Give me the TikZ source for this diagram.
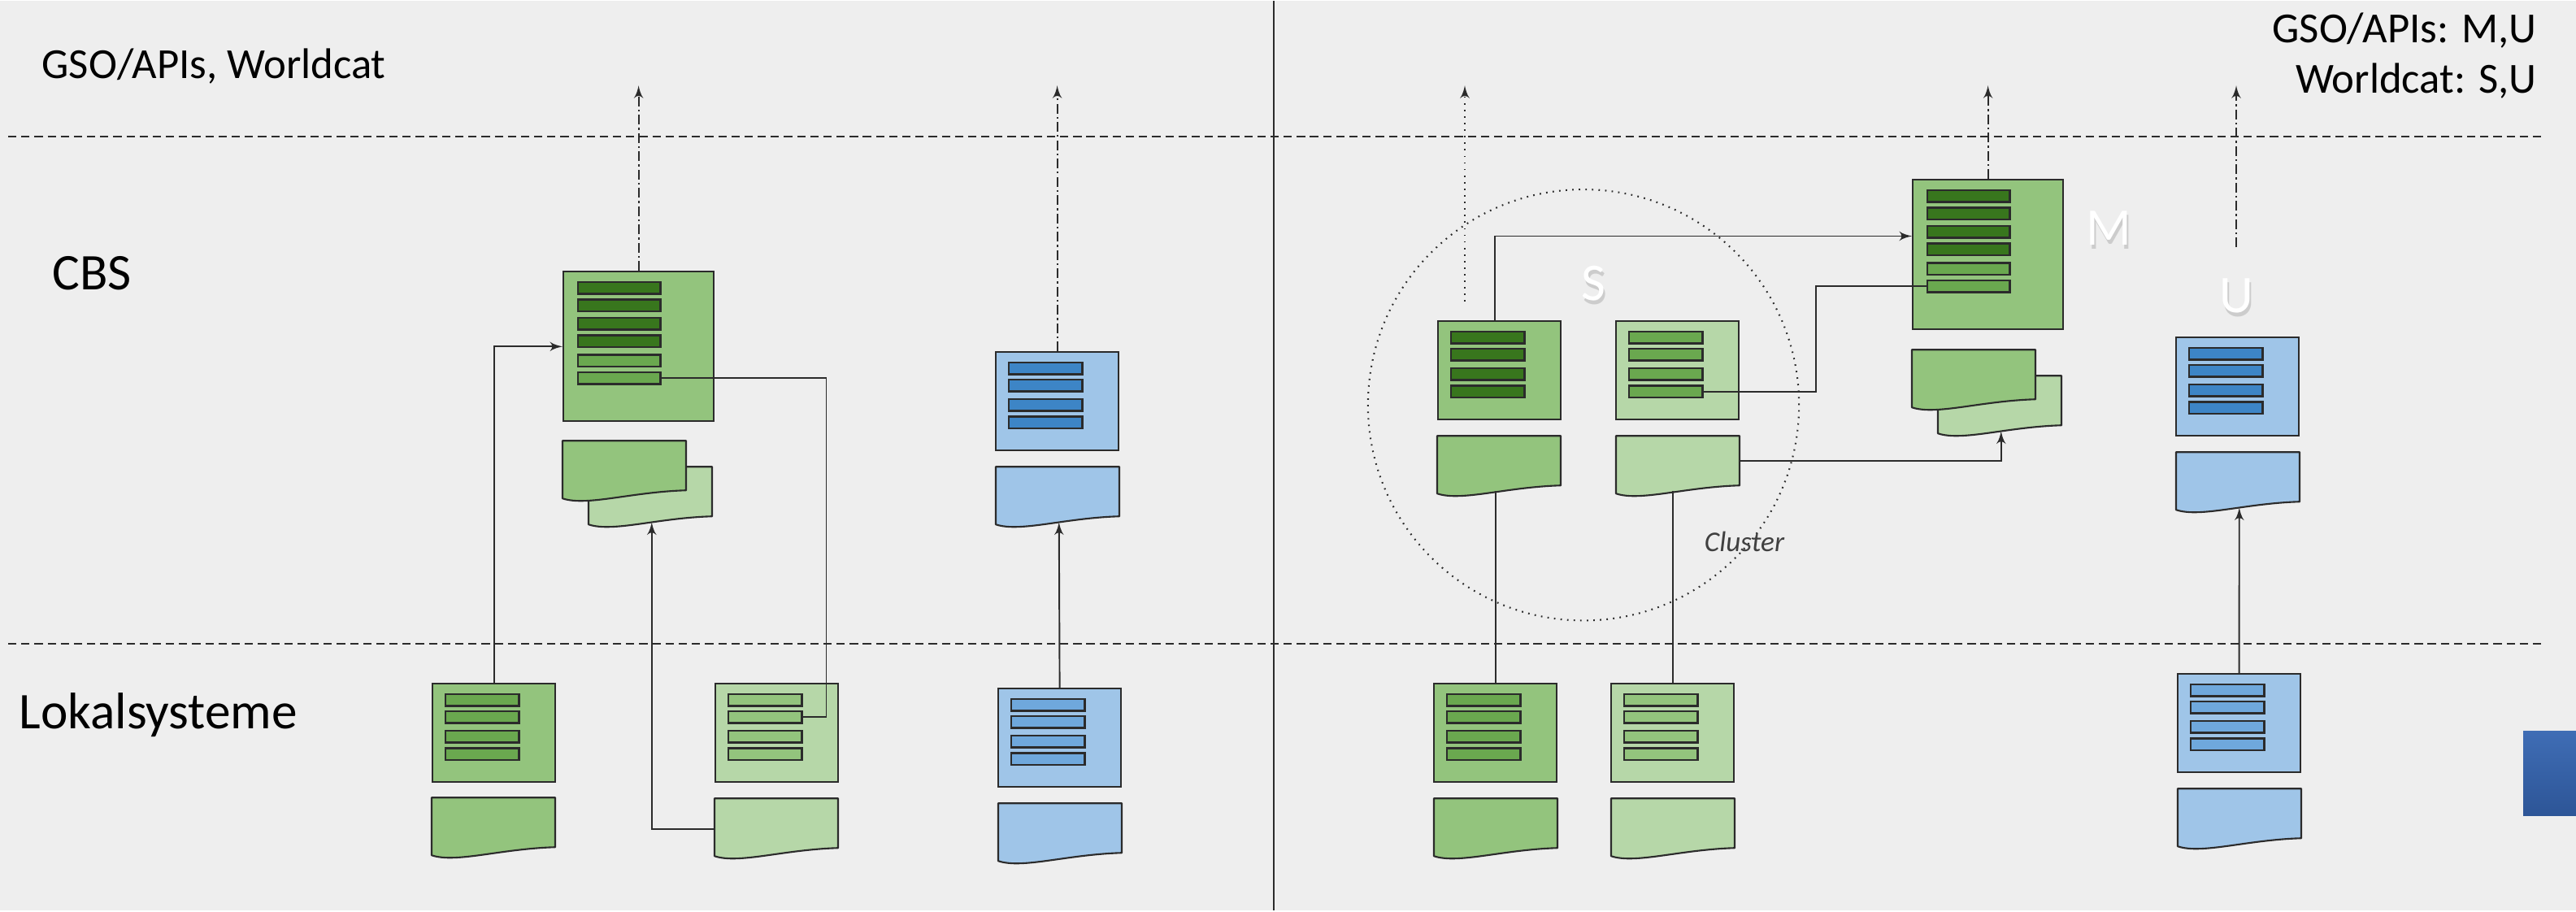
\documentclass[tikz,border=0pt]{standalone}
\usepackage{fontspec}
\setmainfont{Carlito}
\usetikzlibrary{shapes,arrows}
\definecolor{bgc}{HTML}{EEEEEE}
\definecolor{linec}{HTML}{2B2B2B}
\definecolor{gbox}{HTML}{93C47D}
\definecolor{glight}{HTML}{B6D7A8}
\definecolor{gdark}{HTML}{38761D}
\definecolor{gmid}{HTML}{6AA84F}
\definecolor{bbox}{HTML}{9FC5E8}
\definecolor{bdark}{HTML}{3D85C6}
\definecolor{bmid}{HTML}{6FA8DC}
\definecolor{navtop}{HTML}{3F6DB5}
\definecolor{navbot}{HTML}{2D5597}
\tikzstyle{srv} = [rectangle, draw=linec, line width=0.6pt, anchor=north west,
inner sep=0pt, minimum width=1.51cm, minimum height=1.21cm]
\tikzstyle{srvbig} = [srv, fill=gbox, minimum width=1.85cm, minimum height=1.84cm]
\tikzstyle{bar} = [rectangle, draw=linec, line width=0.7pt, anchor=north west,
inner sep=0pt, minimum width=0.9cm, minimum height=0.145cm]
\tikzstyle{barbig} = [bar, minimum width=1.01cm]
\tikzstyle{docline} = [draw=linec, line width=0.6pt, line join=round]
\tikzstyle{docarea} = [rectangle, inner sep=0pt, minimum width=1.52cm, minimum height=0.61cm]
\tikzstyle{line} = [draw=linec, line width=0.55pt, -latex']
\tikzstyle{plain} = [draw=linec, line width=0.55pt]
\tikzstyle{api} = [line, dash pattern=on 3.4pt off 1.2pt on 0.6pt off 1.2pt]
\tikzstyle{dotapi} = [line, dash pattern=on 0.5pt off 1.8pt]
\tikzstyle{layerline} = [draw=linec, line width=0.6pt, dash pattern=on 2.9pt off 1.7pt]
\tikzstyle{cluster} = [circle, draw=linec, line width=0.6pt, dash pattern=on 0.5pt off 1.8pt,
minimum size=5.3cm, inner sep=0pt]
\tikzstyle{head} = [font=\fontsize{15}{18}\selectfont, inner sep=0pt, anchor=base west]
\tikzstyle{headr} = [head, anchor=base east]
\tikzstyle{lvl} = [font=\fontsize{18}{21}\selectfont, inner sep=0pt, anchor=base west]
\tikzstyle{lettertag} = [font=\fontsize{18.5}{22}\selectfont, text=white, inner sep=0pt]
\tikzstyle{lettershadow} = [lettertag, text=black!50, opacity=0.3]
\tikzstyle{clustertxt} = [font=\fontsize{10}{12}\itshape, text=black!75, inner sep=0pt]

% box with four bars: name, x, y, box fill, bar fill
\newcommand{\srvfour}[5]{
 \node[srv, fill=#4] (#1) at (#2,#3) {};
 \foreach \k/\dy in {1/12.5,2/33.5,3/57.5,4/79}
  \node[bar, fill=#5] (#1-\k) at ({#2+16},{#3+\dy}) {};
}
% box with six bars: name, x, y
\newcommand{\srvsix}[3]{
 \node[srvbig] (#1) at (#2,#3) {};
 \foreach \k/\dy/\c in {1/12.5/gdark,2/34/gdark,3/56.5/gdark,4/78/gdark,5/102/gmid,6/123.5/gmid}
  \node[barbig, fill=\c] (#1-\k) at ({#2+18},{#3+\dy}) {};
}
% document page: name, x, y, fill
\newcommand{\docpage}[4]{
 \path[docline, fill=#4] (#2,#3) -- ({#2+152},#3) -- ({#2+152},{#3+61})
  .. controls +(-68,2) and +(30,10) .. (#2,{#3+71}) coordinate[pos=0.4] (#1-b) -- cycle;
 \node[docarea] (#1) at ({#2+76},{#3+30.5}) {};
}

\begin{document}
\begin{tikzpicture}[x=0.01cm, y=-0.01cm]
\fill[bgc] (0,0) rectangle (3169,1119);
\draw[layerline] (10,167) -- (3130,167);
\draw[layerline] (10,791) -- (3130,791);
\draw[linec, line width=0.7pt] (1567,0) -- (1567,1119);
\shade[top color=navtop, bottom color=navbot] (3104,898) rectangle (3169,1002);
\coordinate (top) at (0,104);

\node[head] (tgso) at (51,95) {GSO/APIs, Worldcat};
\node[lvl] (tcbs) at (64,355) {CBS};
\node[lvl] (tlok) at (23,895) {Lokalsysteme};
\node[headr] (tgsoR) at (3121,51) {GSO/APIs: M,U};
\node[headr] (twcR) at (3121,113) {Worldcat: S,U};

\node[cluster] (clu) at (1948,497) {};
\node[clustertxt] (tclu) at (2146,665) {Cluster};
\node[lettershadow] (tSs) at (1962,352) {S};
\node[lettertag] (tS) at (1960,347) {S};
\node[lettershadow] (tMs) at (2596,284) {M};
\node[lettertag] (tM) at (2594,279) {M};
\node[lettershadow] (tUs) at (2753,368) {U};
\node[lettertag] (tU) at (2751,363) {U};

% CBS
\srvsix{CB}{692}{332}
\docpage{CBd2}{724}{573}{glight}
\docpage{CBd1}{692}{541}{gbox}
\srvfour{CBB}{1224}{431}{bbox}{bdark}
\docpage{CBBd}{1225}{573}{bbox}

% Lokalsysteme
\srvfour{L1}{531}{839}{gbox}{gmid}
\docpage{L1d}{531}{980}{gbox}
\srvfour{L2}{879}{839}{glight}{gbox}
\docpage{L2d}{879}{981}{glight}
\srvfour{L3}{1227}{845}{bbox}{bmid}
\docpage{L3d}{1228}{987}{bbox}

% cluster S, M and U
\srvfour{S1}{1768}{393}{gbox}{gdark}
\docpage{S1d}{1768}{535}{gbox}
\srvfour{S2}{1987}{393}{glight}{gmid}
\docpage{S2d}{1988}{535}{glight}
\srvsix{M}{2352}{219}
\docpage{Md2}{2384}{461}{glight}
\docpage{Md1}{2352}{429}{gbox}
\srvfour{U}{2676}{413}{bbox}{bdark}
\docpage{Ud}{2677}{555}{bbox}

\srvfour{R1}{1763}{839}{gbox}{gmid}
\docpage{R1d}{1764}{981}{gbox}
\srvfour{R2}{1981}{839}{glight}{gbox}
\docpage{R2d}{1982}{981}{glight}
\srvfour{R3}{2678}{827}{bbox}{bmid}
\docpage{R3d}{2679}{969}{bbox}

\coordinate (sapi) at (1802,370);
\coordinate (uapi) at (2751,303);

\path [line] (L1.north) |- (CB.west);
\path [plain] (CB-6.east) -- ++(203,0) |- (L2-2.east);
\path [line] ([yshift=-2pt]L2d.west) -| (CBd2-b);
\path [line] (L3.north) -- (CBBd-b);
\path [api] (CB.north) -- (CB.north |- top);
\path [api] (CBB.north) -- (CBB.north |- top);

\path [line] ([xshift=-1.5pt]S1.north) |- ([yshift=6.5pt]M.west);
\path [plain] (S2-4.east) -- ++(138,0) |- (M-6.west);
\path [line] (S2d.east) -| (Md2-b);
\path [plain] (R1.north) -- (R1.north |- S1d-b);
\path [plain] (R2.north) -- (R2.north |- S2d-b);
\path [line] (R3.north) -- (Ud-b);
\path [api] (M.north) -- (M.north |- top);
\path [api] (uapi) -- (uapi |- top);
\path [dotapi] (sapi) -- (sapi |- top);
\end{tikzpicture}
\end{document}
